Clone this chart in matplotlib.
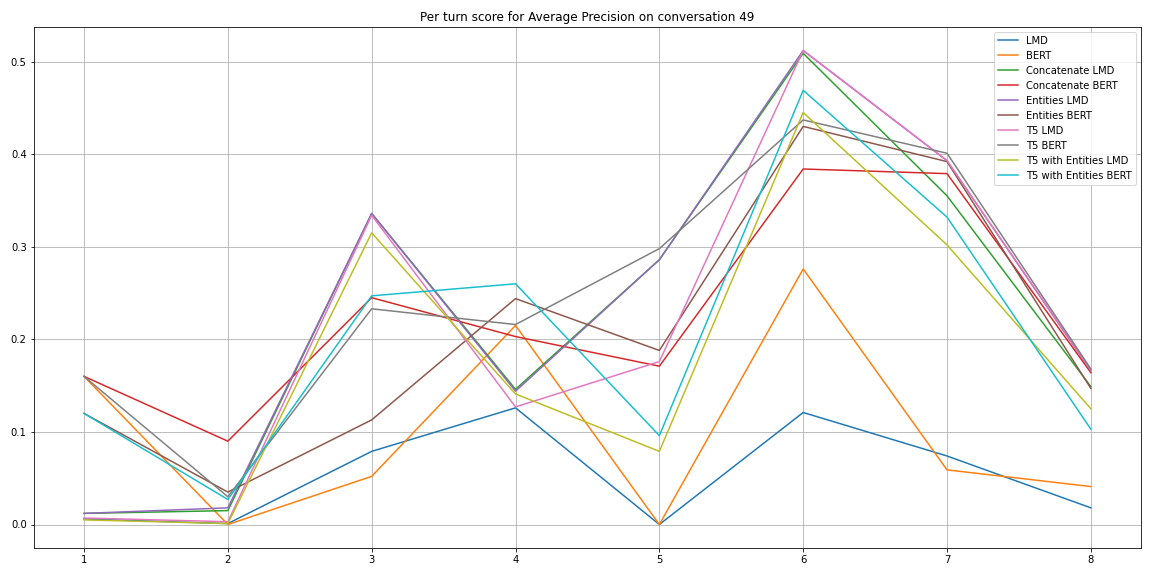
import numpy as np
import matplotlib.pyplot as plt

turns = [1, 2, 3, 4, 5, 6, 7, 8]

lmd = [0.006, 0.001, 0.079, 0.126, 0.0, 0.121, 0.074, 0.018]
bert = [0.16, 0.0, 0.052, 0.215, 0.0, 0.276, 0.059, 0.041]
concat_lmd = [0.012, 0.015, 0.336, 0.146, 0.286, 0.509, 0.355, 0.149]
concat_bert = [0.16, 0.09, 0.245, 0.203, 0.171, 0.384, 0.379, 0.164]
entities_lmd = [0.012, 0.018, 0.336, 0.144, 0.286, 0.512, 0.393, 0.166]
entities_bert = [0.12, 0.035, 0.113, 0.244, 0.188, 0.430, 0.392, 0.147]
t5_lmd = [0.007, 0.003, 0.334, 0.127, 0.176, 0.512, 0.393, 0.167]
t5_bert = [0.16, 0.03, 0.233, 0.216, 0.298, 0.437, 0.401, 0.168]
t5_ent_lmd = [0.005, 0.001, 0.315, 0.141, 0.079, 0.445, 0.302, 0.125]
t5_ent_bert = [0.12, 0.027, 0.247, 0.260, 0.096, 0.469, 0.332, 0.103]

series = [
    ('LMD', lmd),
    ('BERT', bert),
    ('Concatenate LMD', concat_lmd),
    ('Concatenate BERT', concat_bert),
    ('Entities LMD', entities_lmd),
    ('Entities BERT', entities_bert),
    ('T5 LMD', t5_lmd),
    ('T5 BERT', t5_bert),
    ('T5 with Entities LMD', t5_ent_lmd),
    ('T5 with Entities BERT', t5_ent_bert),
]

fig, ax = plt.subplots(figsize=(16, 8), dpi=72)
for name, vals in series:
    ax.plot(turns, vals, label=name)

ax.set_title('Per turn score for Average Precision on conversation 49')
ax.grid(True)
ax.legend(loc='upper right')
fig.tight_layout()
fig.savefig('out.png')
